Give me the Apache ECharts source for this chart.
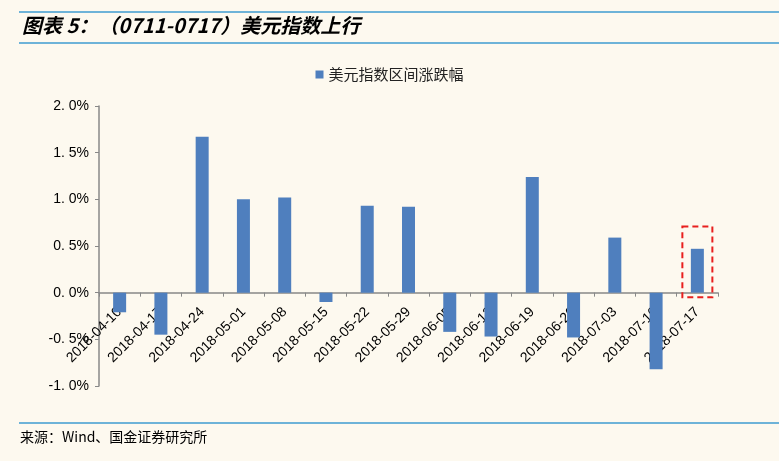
<!DOCTYPE html>
<html><head><meta charset="utf-8">
<script src="https://cdn.jsdelivr.net/npm/echarts@6/dist/echarts.min.js"></script>
<style>html,body{margin:0;padding:0;background:#FDF9EF;}#c{width:779px;height:461px;}</style>
</head><body><div id="c"></div>
<script>
var categories = ['2018-04-10','2018-04-17','2018-04-24','2018-05-01','2018-05-08','2018-05-15','2018-05-22','2018-05-29','2018-06-05','2018-06-12','2018-06-19','2018-06-26','2018-07-03','2018-07-10','2018-07-17'];
var values = [-0.21,-0.45,1.67,1.00,1.02,-0.10,0.93,0.92,-0.42,-0.47,1.24,-0.48,0.59,-0.82,0.47];
var seriesName = '美元指数区间涨跌幅';
var titleText = '图表 5：（0711-0717）美元指数上行';
var sourceText = '来源：Wind、国金证券研究所';
var highlightCategory = '2018-07-17';
var highlightRange = [-0.05, 0.71];
var yMin = -1, yMax = 2, yStep = 0.5;

var chart = echarts.init(document.getElementById('c'));
var option = {
  backgroundColor: '#FDF9EF',
  animation: false,
  legend: {
    data: [seriesName], top: 62, left: 'center', itemWidth: 8, itemHeight: 8, itemGap: 6,
    icon: 'rect',
    textStyle: { fontFamily: 'Noto Sans CJK SC', fontSize: 15, color: '#222' }
  },
  grid: { left: 99, right: 61, top: 106, bottom: 75 },
  xAxis: {
    type: 'category', data: categories, position: 'bottom',
    axisLine: { onZero: false, lineStyle: { color: '#888', width: 1.5 } },
    axisTick: { show: true, length: 4, inside: false, lineStyle: { color: '#888' } },
    axisLabel: { rotate: 45, fontFamily: 'Liberation Sans, Arial', fontSize: 14, color: '#000', interval: 0, margin: 17 }
  },
  yAxis: {
    type: 'value', min: yMin, max: yMax, interval: yStep,
    axisLine: { show: true, lineStyle: { color: '#888', width: 1.5 } },
    axisTick: { show: true, length: 4, lineStyle: { color: '#888' } },
    splitLine: { show: false },
    axisLabel: {
      fontFamily: 'Liberation Sans, Arial', fontSize: 14, color: '#000', margin: 10,
      formatter: function (v) { var s = v.toFixed(1).split('.'); return s[0] + '. ' + s[1] + '%'; }
    }
  },
  series: [{
    name: seriesName, type: 'bar', data: values, barWidth: 13,
    itemStyle: { color: '#4F7FBE' }
  }],
  graphic: []
};
chart.setOption(option);

var y0 = chart.convertToPixel({ yAxisIndex: 0 }, 0);
var yB = chart.convertToPixel({ yAxisIndex: 0 }, yMin);
var cx = chart.convertToPixel({ xAxisIndex: 0 }, highlightCategory);
var yTop = chart.convertToPixel({ yAxisIndex: 0 }, highlightRange[1]);
var yBot = chart.convertToPixel({ yAxisIndex: 0 }, highlightRange[0]);
chart.setOption({
  xAxis: { offset: y0 - yB },
  graphic: [
    { type: 'line', shape: { x1: 19, y1: 12, x2: 779, y2: 12 }, style: { stroke: '#3E9BD0', lineWidth: 1.5 } },
    { type: 'line', shape: { x1: 19, y1: 43, x2: 779, y2: 43 }, style: { stroke: '#3E9BD0', lineWidth: 1.5 } },
    { type: 'text', left: 22, top: 15, style: { text: titleText, font: 'italic bold 20px "Noto Sans CJK SC"', fill: '#000' } },
    { type: 'line', shape: { x1: 19, y1: 423, x2: 779, y2: 423 }, style: { stroke: '#3E9BD0', lineWidth: 1.5 } },
    { type: 'text', left: 20, top: 430, style: { text: sourceText, font: '14px "Noto Sans CJK SC"', fill: '#000' } },
    { type: 'rect', shape: { x: cx - 15, y: yTop, width: 30, height: yBot - yTop },
      style: { fill: 'none', stroke: '#E8201E', lineWidth: 2, lineDash: [6, 4] }, z: 10 }
  ]
});
</script></body></html>
